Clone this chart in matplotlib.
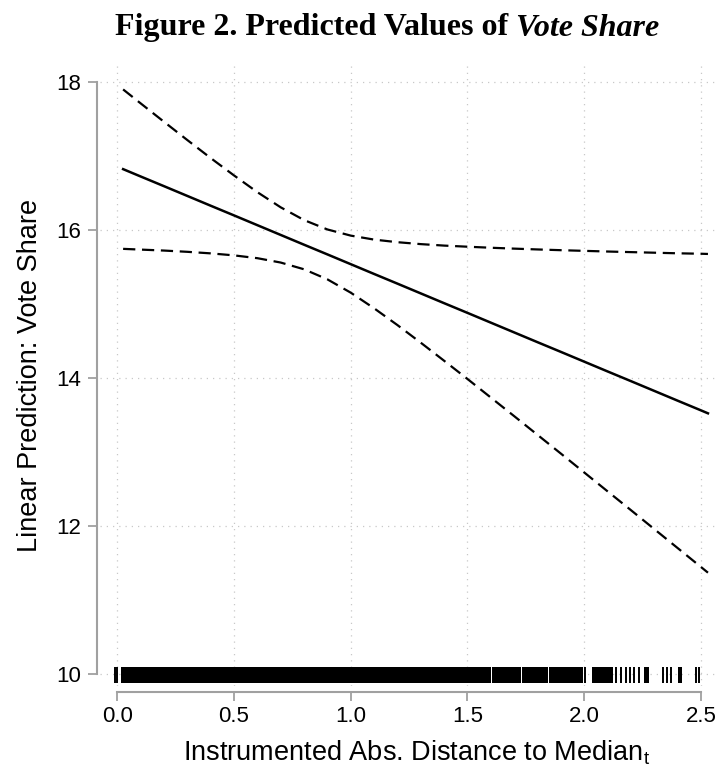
import numpy as np
import matplotlib
matplotlib.use('Agg')
import matplotlib.pyplot as plt

# predicted values and 95% bounds
x_vals = [0.025, 0.1, 0.2, 0.3, 0.4, 0.5, 0.6, 0.7, 0.8, 0.9, 1.0, 1.1, 1.2, 1.3,
          1.4, 1.5, 1.6, 1.7, 1.8, 1.9, 2.0, 2.1, 2.2, 2.3, 2.4, 2.5, 2.53]
pred = [16.823, 16.724, 16.593, 16.461, 16.329, 16.198, 16.066, 15.934, 15.802,
        15.671, 15.539, 15.407, 15.276, 15.144, 15.012, 14.881, 14.749, 14.617,
        14.485, 14.354, 14.222, 14.090, 13.959, 13.827, 13.695, 13.564, 13.524]
upper = [17.900, 17.712, 17.463, 17.216, 16.973, 16.738, 16.512, 16.307, 16.135,
         16.008, 15.925, 15.871, 15.836, 15.810, 15.790, 15.775, 15.761, 15.749,
         15.738, 15.728, 15.719, 15.710, 15.702, 15.694, 15.686, 15.680, 15.677]
lower = [15.746, 15.736, 15.723, 15.706, 15.685, 15.658, 15.620, 15.561, 15.470,
         15.334, 15.154, 14.943, 14.716, 14.478, 14.234, 13.988, 13.737, 13.486,
         13.233, 12.980, 12.725, 12.470, 12.216, 11.960, 11.704, 11.448, 11.371]

# rug: solid blocks where observations are too dense to separate, plus single ticks
rug_blocks = [(0.015, 1.600), (1.604, 1.728), (1.732, 1.844), (1.848, 1.993),
              (2.032, 2.124), (2.256, 2.278), (2.401, 2.417)]
rug_ticks = [-0.008, 0.0, 2.003, 2.137, 2.158, 2.177, 2.196, 2.213, 2.234,
             2.336, 2.356, 2.370, 2.477, 2.493]

xticks = [0.0, 0.5, 1.0, 1.5, 2.0, 2.5]
yticks = [10, 12, 14, 16, 18]

plt.rcParams['font.family'] = ['Liberation Sans', 'DejaVu Sans']
plt.rcParams['mathtext.fontset'] = 'custom'
plt.rcParams['mathtext.rm'] = 'Liberation Sans'

fig = plt.figure(figsize=(7.18, 7.71), dpi=100)
ax = fig.add_axes([100/718, 1-686/771, 618/718, 621/771])

ax.plot(x_vals, pred, color='black', lw=1.8)
ax.plot(x_vals, upper, color='black', lw=1.6, dashes=(5.5, 3))
ax.plot(x_vals, lower, color='black', lw=1.6, dashes=(5.5, 3))

rug_lo, rug_hi = 9.88, 10.1
for a, b in rug_blocks:
    ax.fill_between([a, b], rug_lo, rug_hi, color='black', lw=0)
ax.vlines(rug_ticks, rug_lo, rug_hi, color='black', lw=1.4)

ax.set_xlim(-0.074, 2.573)
ax.set_ylim(9.84, 18.23)
ax.set_xticks(xticks)
ax.set_xticklabels(['%.1f' % t for t in xticks])
ax.set_yticks(yticks)

ax.grid(True, color='#c8c8c8', lw=0.9, linestyle=(0, (1, 4)))
ax.set_axisbelow(True)

for s in ['top', 'right']:
    ax.spines[s].set_visible(False)
ax.spines['left'].set_position(('outward', 2))
ax.spines['left'].set_bounds(10, 18)
ax.spines['bottom'].set_position(('outward', 4))
ax.spines['bottom'].set_bounds(0, 2.5)
for s in ['left', 'bottom']:
    ax.spines[s].set_color('#a0a0a0')
    ax.spines[s].set_linewidth(1.5)
ax.tick_params(axis='both', direction='out', length=6.5, width=1.3,
               color='#a0a0a0', labelsize=16, labelcolor='black')
ax.tick_params(axis='y', pad=5)
ax.tick_params(axis='x', pad=4)

ax.set_ylabel('Linear Prediction: Vote Share', fontsize=19.5)
ax.yaxis.set_label_coords(-0.092, 0.5)
ax.set_xlabel(r'Instrumented Abs. Distance to Median$_\mathrm{t}$', fontsize=19.5)
ax.xaxis.set_label_coords(0.512, -0.085)

# title: bold part plus bold italic part, centred together
fig.canvas.draw()
r = fig.canvas.get_renderer()
t1 = fig.text(0, 0, 'Figure 2. Predicted Values of ', fontsize=23, fontweight='bold',
              family='Liberation Serif', va='center')
t2 = fig.text(0, 0, 'Vote Share', fontsize=23, fontweight='bold', style='italic',
              family='Liberation Serif', va='center')
w1 = t1.get_window_extent(r).width
w2 = t2.get_window_extent(r).width
cx = 387
ty = 1 - 28/771
x0 = cx - (w1 + w2) / 2
t1.set_position((x0 / 718, ty))
t2.set_position(((x0 + w1) / 718, ty))

plt.savefig('out.png', dpi=100)
